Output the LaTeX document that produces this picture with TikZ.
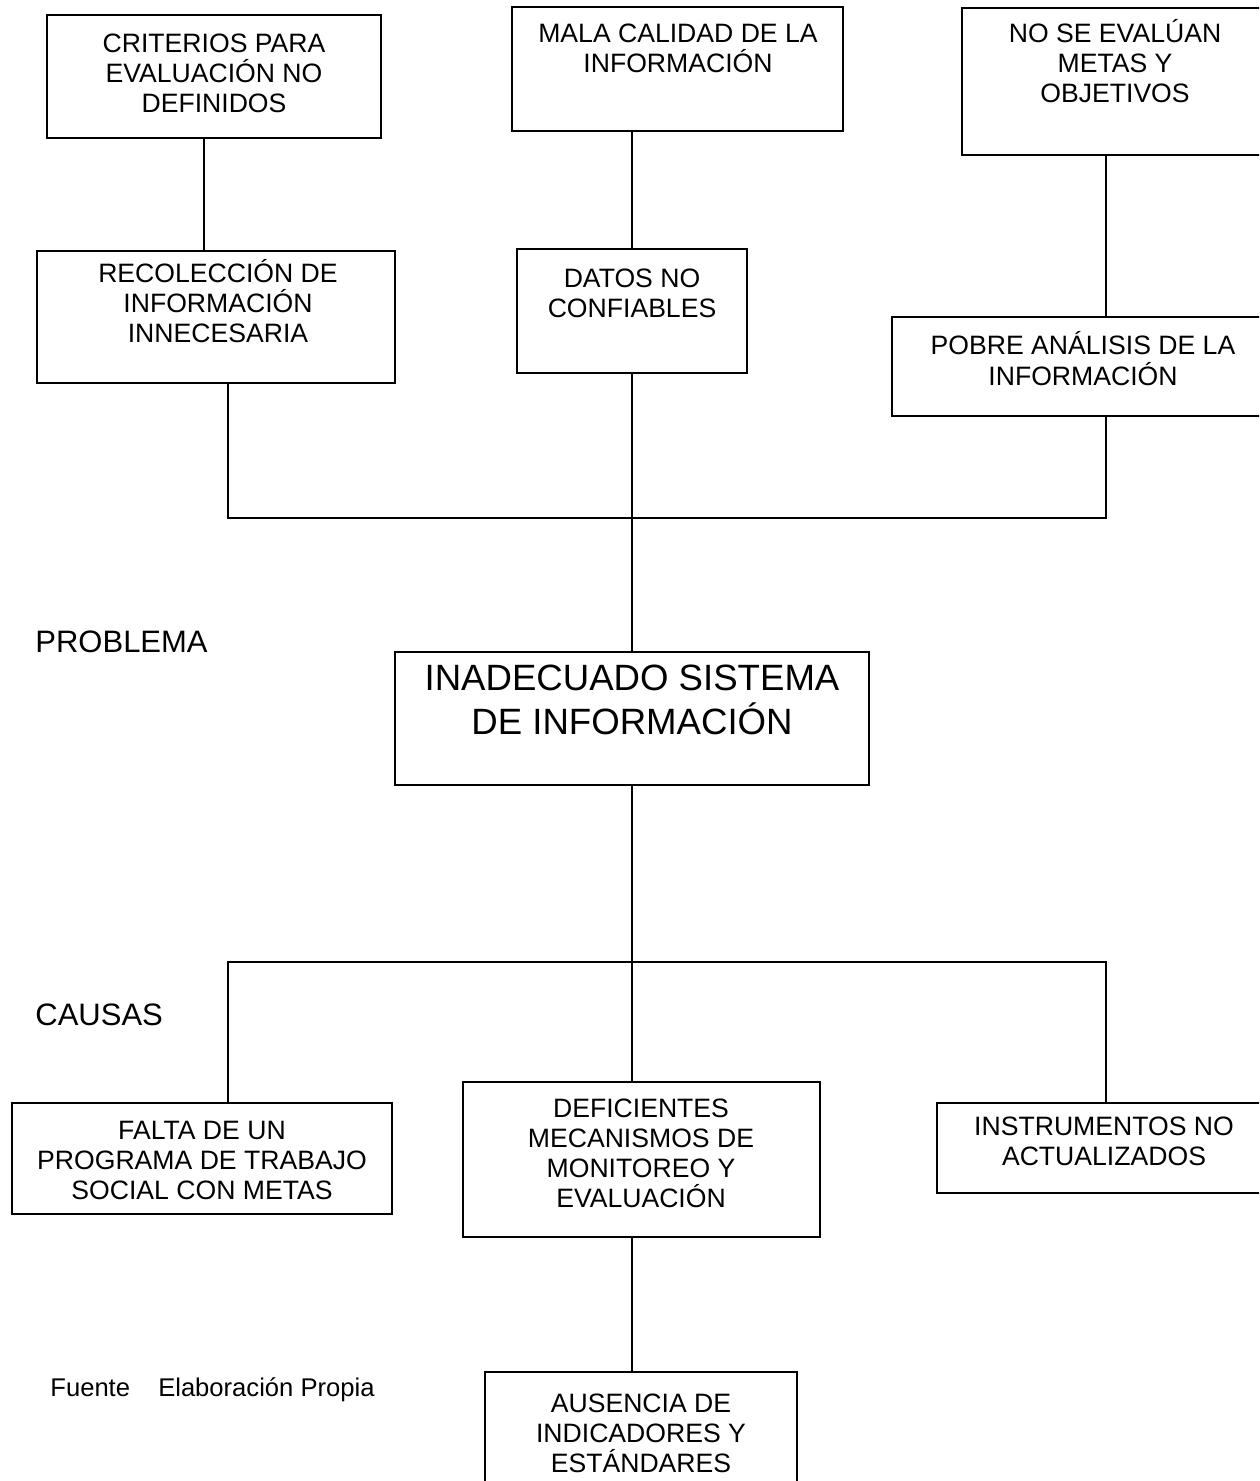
\documentclass[tikz,border=0pt]{standalone}
\usepackage{fontspec}
\setmainfont{Liberation Sans}
\tikzset{
  box/.style={draw=black, line width=1.4pt, rectangle, inner sep=0pt, fill=none},
  boxtext/.style={align=center, inner sep=0pt, anchor=base,
    font=\fontsize{13.3pt}{15pt}\selectfont},
  bigtext/.style={align=center, inner sep=0pt, anchor=base,
    font=\fontsize{18.3pt}{22pt}\selectfont},
  sidelabel/.style={inner sep=0pt, anchor=base west,
    font=\fontsize{15.5pt}{17pt}\selectfont},
  notetext/.style={inner sep=0pt, anchor=base west,
    font=\fontsize{12.8pt}{14pt}\selectfont},
  link/.style={draw=black, line width=1.4pt}
}
% box from its corners (x1,y1) to (x2,y2), in pixel units
\newcommand\mkbox[5]{%
  \node[box, minimum width={(#4-#2)*0.5pt}, minimum height={(#5-#3)*0.5pt}]
    (#1) at ({(#2+#4)/2},{(#3+#5)/2}) {};}
\begin{document}
\begin{tikzpicture}[x=0.5pt, y=-0.5pt]
\useasboundingbox (0,0) rectangle (1259,1481);
\fill[white] (0,0) rectangle (1259,1481);
\clip (0,0) rectangle (1259,1481);

% effects
\mkbox{b1}{47}{15}{381}{138}
\mkbox{b2}{512}{7}{843}{131}
\mkbox{b3}{962}{8}{1268}{155}
\mkbox{b4}{37}{251}{395}{383}
\mkbox{b5}{517}{249}{747}{373}
\mkbox{b6}{892}{317}{1274}{416}
% problem
\mkbox{b7}{395}{652}{869}{785}
% causes
\mkbox{b8}{12}{1103}{392}{1214}
\mkbox{b9}{463}{1082}{820}{1237}
\mkbox{b10}{937}{1103}{1271}{1193}
\mkbox{b11}{485}{1372}{797}{1500}

% texts, placed by the baseline of their last line
\node[boxtext] (t1) at (214,113) {CRITERIOS PARA\\EVALUACIÓN NO\\DEFINIDOS};
\node[boxtext] (t2) at (678,73) {MALA CALIDAD DE LA\\INFORMACIÓN};
\node[boxtext] (t3) at (1115,103) {NO SE EVALÚAN\\METAS Y\\OBJETIVOS};
\node[boxtext] (t4) at (218,343) {RECOLECCIÓN DE\\INFORMACIÓN\\INNECESARIA};
\node[boxtext] (t5) at (632,318) {DATOS NO\\CONFIABLES};
\node[boxtext] (t6) at (1083,385) {POBRE ANÁLISIS DE LA\\INFORMACIÓN};
\node[bigtext] (t7) at (632,734) {INADECUADO SISTEMA\\DE INFORMACIÓN};
\node[boxtext] (t8) at (202,1199) {FALTA DE UN\\PROGRAMA DE TRABAJO\\SOCIAL CON METAS};
\node[boxtext] (t9) at (641,1207) {DEFICIENTES\\MECANISMOS DE\\MONITOREO Y\\EVALUACIÓN};
\node[boxtext] (t10) at (1104,1165) {INSTRUMENTOS NO\\ACTUALIZADOS};
\node[boxtext] (t11) at (641,1472) {AUSENCIA DE\\INDICADORES Y\\ESTÁNDARES};

\node[sidelabel] (lp) at (35,652) {PROBLEMA};
\node[sidelabel] (lc) at (35,1025) {CAUSAS};
\node[notetext] (lf) at (50,1396) {Fuente\hspace{1.1em}Elaboración Propia};

% connector columns and junction rows
\coordinate (xa) at (204,0);
\coordinate (xm) at (632,0);
\coordinate (xr) at (1106,0);
\coordinate (xl) at (228,0);
\coordinate (jt) at (0,518);
\coordinate (jb) at (0,962);

\draw[link] (b1.south -| xa) -- (b4.north -| xa);
\draw[link] (b2.south -| xm) -- (b5.north -| xm);
\draw[link] (b3.south -| xr) -- (b6.north -| xr);
\draw[link] (b4.south -| xl) -- (jt -| xl) -- (jt -| xr) -- (b6.south -| xr);
\draw[link] (b5.south -| xm) -- (b7.north -| xm);
\draw[link] (b7.south -| xm) -- (b9.north -| xm);
\draw[link] (b8.north -| xl) -- (jb -| xl) -- (jb -| xr) -- (b10.north -| xr);
\draw[link] (b9.south -| xm) -- (b11.north -| xm);
\end{tikzpicture}
\end{document}
